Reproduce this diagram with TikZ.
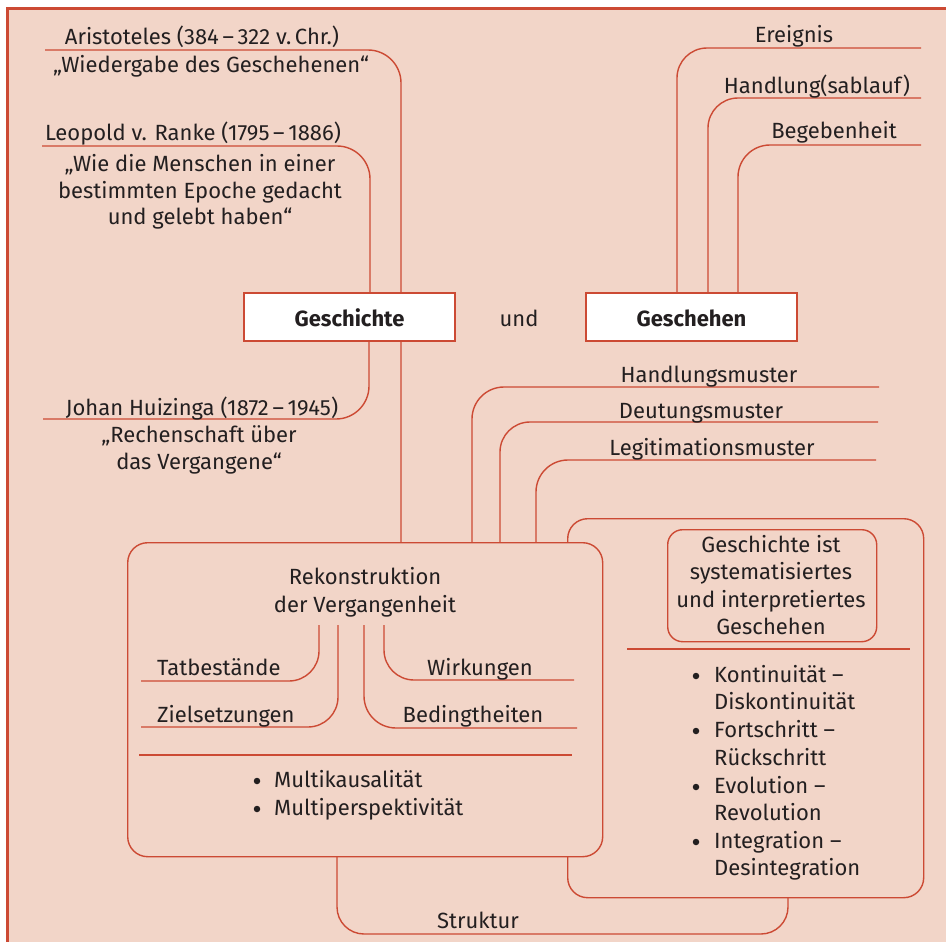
\documentclass[tikz,border=0pt]{standalone}
\usepackage{fontspec}
\setmainfont{Fira Sans}
\definecolor{bgc}{RGB}{242,213,200}
\definecolor{lnc}{RGB}{204,74,52}
\definecolor{txc}{RGB}{35,31,32}
\begin{document}
\begin{tikzpicture}[x=1pt,y=-1pt,
  conn/.style={draw=lnc, line width=1.4pt, rounded corners=32pt},
  lbl/.style={anchor=base, inner sep=0pt, text=txc, font=\fontsize{22}{27}\selectfont},
  lbll/.style={lbl, anchor=base west},
  bul/.style={circle, fill=txc, inner sep=0pt, minimum size=6.5pt},
  titlebox/.style={draw=lnc, line width=1.4pt, fill=white, minimum width=211pt, minimum height=48pt, inner sep=0pt, text=txc, font=\fontsize{22}{27}\selectfont\bfseries},
  roundbox/.style={draw=lnc, line width=1.4pt, fill=bgc, rounded corners=20pt, anchor=north west, inner sep=0pt},
  sepline/.style={draw=lnc, line width=1.4pt}]
\useasboundingbox (0,0) rectangle (946,942);
\fill[white] (0,0) rectangle (946,942);
\fill[bgc] (7,8) rectangle (946,942);
\draw[lnc, line width=3pt] (946,8.5) -- (7.5,8.5) -- (7.5,942);

% coordinates
\coordinate (aS) at (45,50);   \coordinate (aE) at (401,542);
\coordinate (rS) at (42,146);  \coordinate (rE) at (370,293);
\coordinate (hS) at (43,419);  \coordinate (hE) at (369,341);
\coordinate (eS) at (921,48);  \coordinate (eE) at (677,293);
\coordinate (hsS) at (921,98); \coordinate (hsE) at (708,293);
\coordinate (bS) at (921,145); \coordinate (bE) at (738,293);
\coordinate (hmS) at (879,387); \coordinate (hmE) at (472,542);
\coordinate (dmS) at (878,422); \coordinate (dmE) at (500,542);
\coordinate (lmS) at (876,460); \coordinate (lmE) at (536,542);

% connectors top-left
\draw[conn,rounded corners=33pt] (aS) -| (aE);
\draw[conn,rounded corners=33pt] (rS) -| (rE);
\draw[conn,rounded corners=33pt] (hS) -| (hE);
% connectors top-right
\draw[conn,rounded corners=30pt] (eS) -| (eE);
\draw[conn,rounded corners=30pt] (hsS) -| (hsE);
\draw[conn,rounded corners=32pt] (bS) -| (bE);
% pattern connectors
\draw[conn] (hmS) -| (hmE);
\draw[conn,rounded corners=30pt] (dmS) -| (dmE);
\draw[conn] (lmS) -| (lmE);

% Struktur connector
\coordinate (sA) at (337,856);
\coordinate (sB) at (788,897);
\draw[conn,rounded corners=27pt] (sA) -- (337,934) -- (788,934) -- (sB);
\node[lbl] (struktur) at (478,928) {Struktur};

% boxes
\node[roundbox, minimum width=356pt, minimum height=379pt] (rbox) at (567,518) {};
\node[roundbox, minimum width=475pt, minimum height=314pt] (rek) at (127,542) {};
\node[titlebox] (gesch) at (349.5,317) {};
\node[titlebox] (gesche) at (691.5,317) {};
\node[lbl, font=\fontsize{22}{27}\selectfont\bfseries] (geschT) at (349.5,326) {Geschichte};
\node[lbl, font=\fontsize{22}{27}\selectfont\bfseries] (gescheT) at (691.5,326) {Geschehen};
\node[lbl] (und) at (519,326) {und};

% top-left texts
\node[lbl] (aristo) at (202,45) {Aristoteles (384\,–\,322 v.\,Chr.)};
\node[lbl] (wieder) at (211,73) {„Wiedergabe des Geschehenen“};
\node[lbl] (ranke) at (193,140) {Leopold v. Ranke (1795\,–\,1886)};
\node[lbl] (wie1) at (200,171) {„Wie die Menschen in einer};
\node[lbl] (wie2) at (200,198) {bestimmten Epoche gedacht};
\node[lbl] (wie3) at (200,224) {und gelebt haben“};
\node[lbl] (huiz) at (202,415) {Johan Huizinga (1872\,–\,1945)};
\node[lbl] (rech1) at (199,442) {„Rechenschaft über};
\node[lbl] (rech2) at (199,469) {das Vergangene“};

% top-right texts
\node[lbl] (ereig) at (794,43) {Ereignis};
\node[lbl] (handl) at (817,93) {Handlung(sablauf)};
\node[lbl] (begeb) at (834,139) {Begebenheit};
\node[lbl] (hm) at (709,382) {Handlungsmuster};
\node[lbl] (dm) at (701,418) {Deutungsmuster};
\node[lbl] (lm) at (712,455) {Legitimationsmuster};

% Rekonstruktion box content
\node[lbl] (rek1) at (365,584) {Rekonstruktion};
\node[lbl] (rek2) at (365,612) {der Vergangenheit};
\coordinate (tS) at (319,625); \coordinate (tE) at (141,681);
\coordinate (zS) at (338,625); \coordinate (zE) at (141,727);
\coordinate (wS) at (384,625); \coordinate (wE) at (574,680);
\coordinate (bdS) at (364,625); \coordinate (bdE) at (577,728);
\draw[conn,rounded corners=30pt] (tS) |- (tE);
\draw[conn,rounded corners=30pt] (zS) |- (zE);
\draw[conn,rounded corners=30pt] (wS) |- (wE);
\draw[conn,rounded corners=32pt] (bdS) |- (bdE);
\node[lbll] (tat) at (157,675) {Tatbestände};
\node[lbll] (ziel) at (157,722) {Zielsetzungen};
\node[lbl] (wirk) at (480,675) {Wirkungen};
\node[lbl] (bed) at (473,722) {Bedingtheiten};
\coordinate (l1a) at (139,755); \coordinate (l1b) at (572,755);
\draw[sepline] (l1a) -- (l1b);
\node[bul] (mb1) at (257,781) {};
\node[lbll] (mk) at (274,787) {Multikausalität};
\node[bul] (mb2) at (257,809) {};
\node[lbll] (mp) at (274,815) {Multiperspektivität};

% right box content
\node[roundbox, fill=none, rounded corners=15pt, minimum width=209pt, minimum height=112pt] (inner) at (667,529) {};
\node[lbl] (gi1) at (771,552) {Geschichte ist};
\node[lbl] (gi2) at (771,579) {systematisiertes};
\node[lbl] (gi3) at (771,607) {und interpretiertes};
\node[lbl] (gi4) at (771,634) {Geschehen};
\coordinate (l2a) at (627,649); \coordinate (l2b) at (910,649);
\draw[sepline] (l2a) -- (l2b);
\node[bul] (kb1) at (696,676) {};
\node[lbll] (k1) at (714,682) {Kontinuität –};
\node[lbll] (k2) at (714,709) {Diskontinuität};
\node[bul] (kb2) at (696,731) {};
\node[lbll] (f1) at (714,737) {Fortschritt –};
\node[lbll] (f2) at (714,765) {Rückschritt};
\node[bul] (kb3) at (696,787) {};
\node[lbll] (ev1) at (714,793) {Evolution –};
\node[lbll] (ev2) at (714,820) {Revolution};
\node[bul] (kb4) at (696,842) {};
\node[lbll] (in1) at (714,848) {Integration –};
\node[lbll] (in2) at (714,875) {Desintegration};
\end{tikzpicture}
\end{document}
